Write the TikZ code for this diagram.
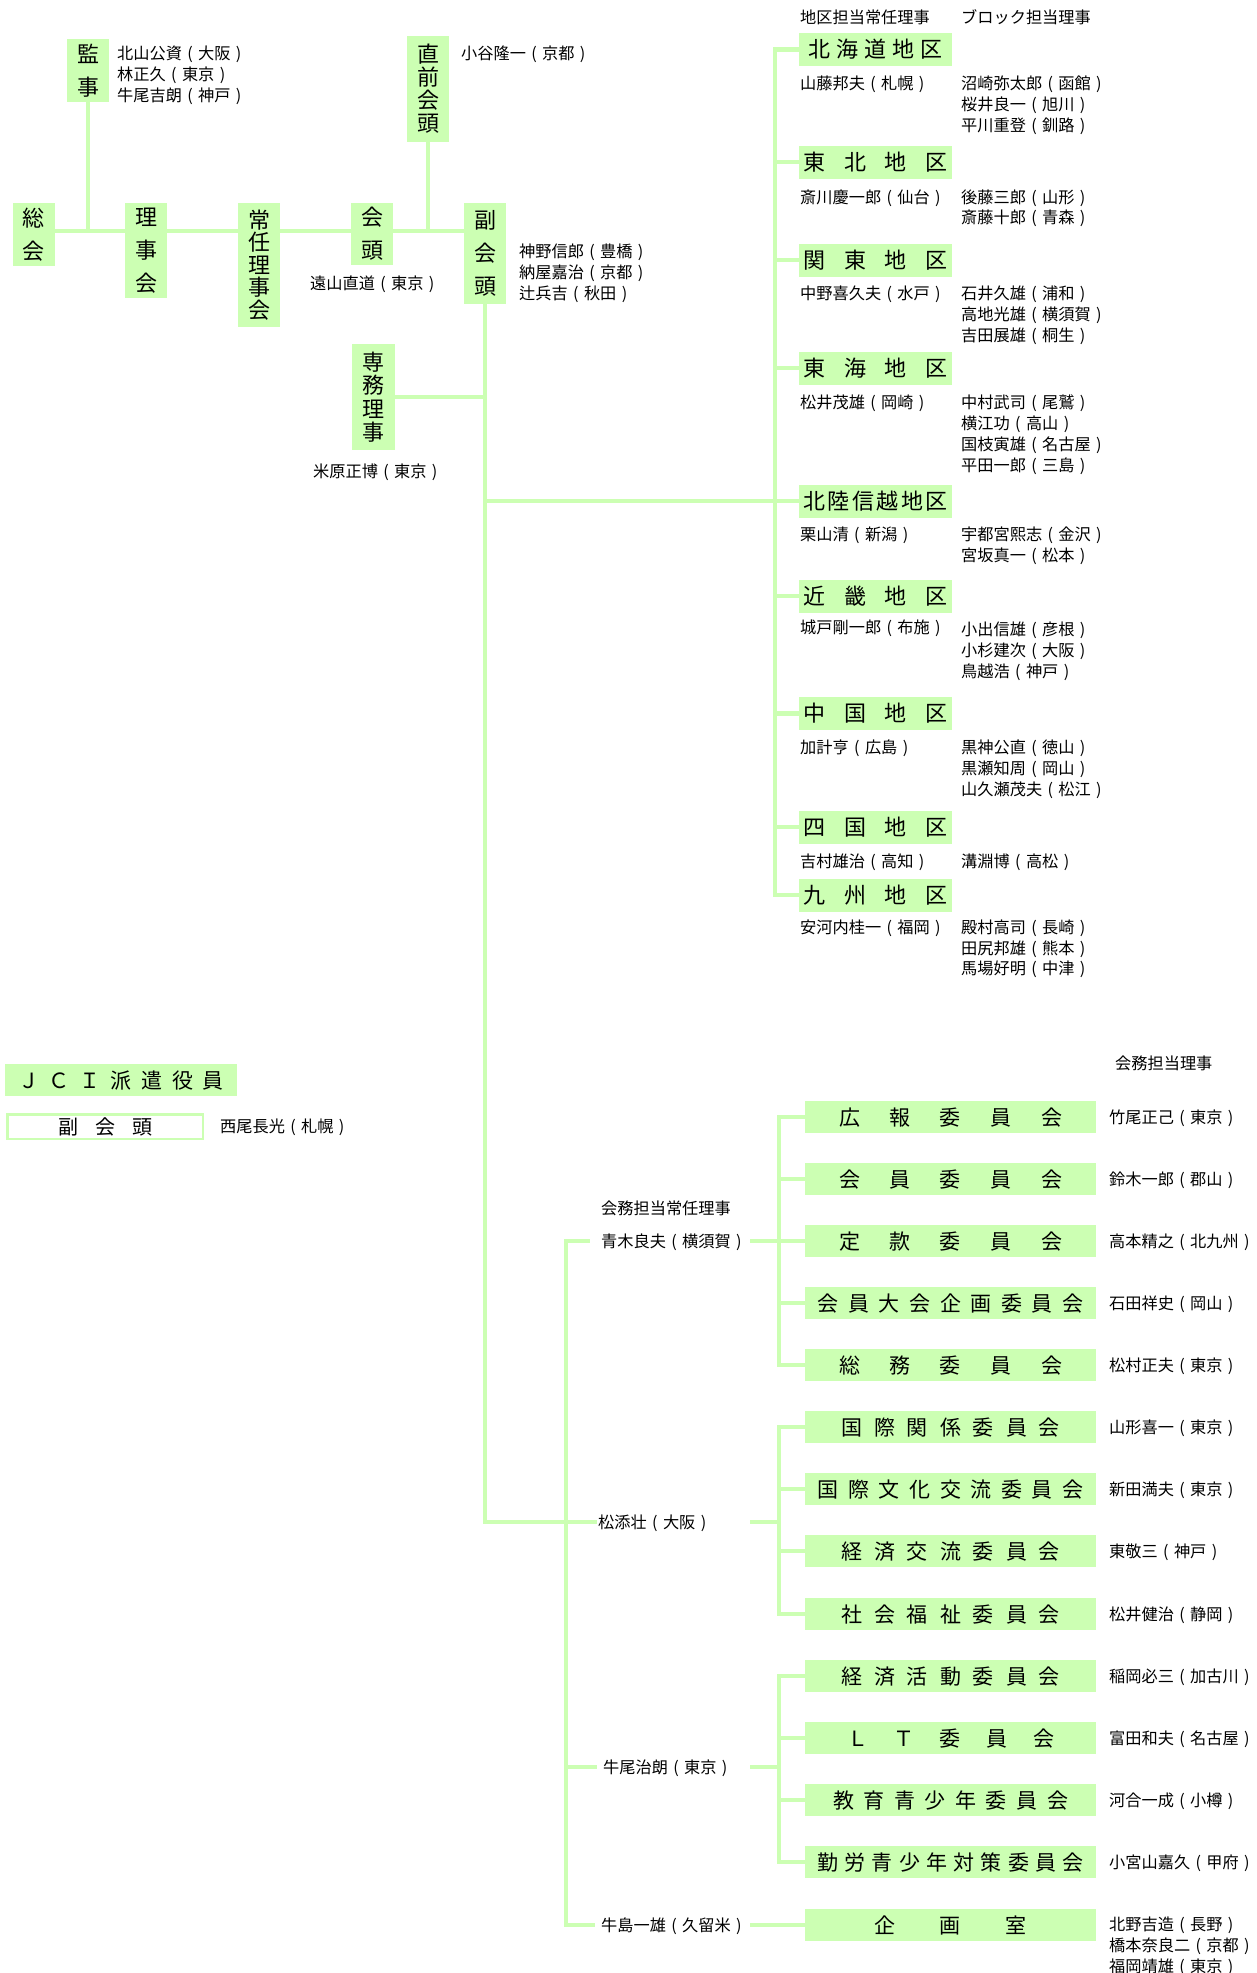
\documentclass[tikz,border=0pt]{standalone}
\usepackage{fontspec}
\setmainfont{Noto Sans CJK JP}
\usetikzlibrary{backgrounds}
\definecolor{jg}{RGB}{204,255,179}
\newcommand\nm[4]{\node[nmtext] (#1) at (#2,#3) {#4};}
\newcommand\pl[1]{\makebox[1em]{(}#1\makebox[1em]{)}}
\begin{document}
\begin{tikzpicture}[x=1pt,y=-1pt,
  conn/.style={draw=jg, line width=4.5pt, line cap=rect},
  vbox/.style={fill=jg, inner sep=0pt, minimum width=42pt, align=center},
  sp/.style={font=\fontsize{22}{33}\selectfont},
  tg/.style={font=\fontsize{22}{23}\selectfont},
  rbox/.style={fill=jg, inner sep=0pt, minimum width=153pt, minimum height=33pt,
    font=\fontsize{22}{22}\selectfont, text height=19pt, text depth=3pt},
  cbox/.style={fill=jg, inner sep=0pt, minimum width=291pt, minimum height=32pt,
    font=\fontsize{21}{21}\selectfont, text height=18.5pt, text depth=2.5pt},
  nmtext/.style={anchor=west, inner sep=0pt, font=\fontsize{16.2}{16.2}\selectfont,
    text height=14pt, text depth=2pt}]
\useasboundingbox (0,0) rectangle (1257,1973);

% ---------- top chain ----------
\node[vbox, sp, minimum height=63pt]  (kanji)    at (88,70.5)   {監\\事};
\node[vbox, sp, minimum height=63pt]  (sokai)    at (34,234.5)  {総\\会};
\node[vbox, sp, minimum height=95pt]  (rijikai)  at (146,250.5) {理\\事\\会};
\node[vbox, font=\fontsize{22}{22.5}\selectfont, minimum height=124pt] (jonin) at (259,265) {常\\任\\理\\事\\会};
\node[vbox, sp, minimum height=62pt]  (kaito)    at (372,234)   {会\\頭};
\node[vbox, tg, minimum height=106pt] (chokuzen) at (428,89)    {直\\前\\会\\頭};
\node[vbox, sp, minimum height=101pt] (fuku)     at (485,253.5) {副\\会\\頭};
\node[vbox, font=\fontsize{22}{23.5}\selectfont, minimum width=43pt, minimum height=106pt] (senmu) at (373.5,397) {専\\務\\理\\事};

\nm{k1}{117}{53}{北山公資\pl{大阪}}
\nm{k2}{117}{74}{林正久\pl{東京}}
\nm{k3}{117}{95}{牛尾吉朗\pl{神戸}}
\nm{c1}{461}{53}{小谷隆一\pl{京都}}
\nm{t1}{310}{283}{遠山直道\pl{東京}}
\nm{f1}{519}{251}{神野信郎\pl{豊橋}}
\nm{f2}{519}{272}{納屋嘉治\pl{京都}}
\nm{f3}{519}{293}{辻兵吉\pl{秋田}}
\nm{s1}{313}{471}{米原正博\pl{東京}}

% ---------- regions ----------
\nm{h1}{800}{17}{地区担当常任理事}
\nm{h2}{961}{17}{ブロック担当理事}

\node[rbox] (hokkaido) at (875.5,49.5) {\makebox[134pt]{北\hfill 海\hfill 道\hfill 地\hfill 区}};
\node[rbox] (tohoku)   at (875.5,162)  {\makebox[144pt]{東\hfill 北\hfill 地\hfill 区}};
\node[rbox] (kanto)    at (875.5,260)  {\makebox[144pt]{関\hfill 東\hfill 地\hfill 区}};
\node[rbox] (tokai)    at (875.5,368)  {\makebox[144pt]{東\hfill 海\hfill 地\hfill 区}};
\node[rbox] (hokuriku) at (875.5,501)  {\makebox[144pt]{北\hfill 陸\hfill 信\hfill 越\hfill 地\hfill 区}};
\node[rbox] (kinki)    at (875.5,596)  {\makebox[144pt]{近\hfill 畿\hfill 地\hfill 区}};
\node[rbox] (chugoku)  at (875.5,713.5){\makebox[144pt]{中\hfill 国\hfill 地\hfill 区}};
\node[rbox] (shikoku)  at (875.5,827)  {\makebox[144pt]{四\hfill 国\hfill 地\hfill 区}};
\node[rbox] (kyushu)   at (875.5,895)  {\makebox[144pt]{九\hfill 州\hfill 地\hfill 区}};

\nm{r1}{800}{83}{山藤邦夫\pl{札幌}}
\nm{r2}{961}{83}{沼崎弥太郎\pl{函館}}
\nm{r3}{961}{104}{桜井良一\pl{旭川}}
\nm{r4}{961}{125}{平川重登\pl{釧路}}
\nm{r5}{800}{197}{斎川慶一郎\pl{仙台}}
\nm{r6}{961}{197}{後藤三郎\pl{山形}}
\nm{r7}{961}{217}{斎藤十郎\pl{青森}}
\nm{r8}{800}{293}{中野喜久夫\pl{水戸}}
\nm{r9}{961}{293}{石井久雄\pl{浦和}}
\nm{r10}{961}{314}{高地光雄\pl{横須賀}}
\nm{r11}{961}{335}{吉田展雄\pl{桐生}}
\nm{r12}{800}{402}{松井茂雄\pl{岡崎}}
\nm{r13}{961}{402}{中村武司\pl{尾鷲}}
\nm{r14}{961}{423}{横江功\pl{高山}}
\nm{r15}{961}{444}{国枝寅雄\pl{名古屋}}
\nm{r16}{961}{465}{平田一郎\pl{三島}}
\nm{r17}{800}{534}{栗山清\pl{新潟}}
\nm{r18}{961}{534}{宇都宮熙志\pl{金沢}}
\nm{r19}{961}{555}{宮坂真一\pl{松本}}
\nm{r20}{800}{627}{城戸剛一郎\pl{布施}}
\nm{r21}{961}{629}{小出信雄\pl{彦根}}
\nm{r22}{961}{650}{小杉建次\pl{大阪}}
\nm{r23}{961}{671}{鳥越浩\pl{神戸}}
\nm{r24}{800}{747}{加計亨\pl{広島}}
\nm{r25}{961}{747}{黒神公直\pl{徳山}}
\nm{r26}{961}{768}{黒瀬知周\pl{岡山}}
\nm{r27}{961}{789}{山久瀬茂夫\pl{松江}}
\nm{r28}{800}{861}{吉村雄治\pl{高知}}
\nm{r29}{961}{861}{溝淵博\pl{高松}}
\nm{r30}{800}{927}{安河内桂一\pl{福岡}}
\nm{r31}{961}{927}{殿村高司\pl{長崎}}
\nm{r32}{961}{948}{田尻邦雄\pl{熊本}}
\nm{r33}{961}{968}{馬場好明\pl{中津}}

% ---------- JCI ----------
\node[fill=jg, inner sep=0pt, minimum width=232pt, minimum height=32pt,
  font=\fontsize{21}{21}\selectfont, text height=18.5pt, text depth=2.5pt] (jci) at (121,1080)
  {\makebox[206pt]{Ｊ\hfill Ｃ\hfill Ｉ\hfill 派\hfill 遣\hfill 役\hfill 員}};
\node[draw=jg, line width=2.5pt, inner sep=0pt, minimum width=195.5pt, minimum height=24.5pt,
  font=\fontsize{20}{20}\selectfont, text height=17.5pt, text depth=2.5pt] (jcifuku) at (105,1126.5)
  {\makebox[94pt]{副\hfill 会\hfill 頭}};
\nm{j1}{220}{1126}{西尾長光\pl{札幌}}

% ---------- committees ----------
\nm{h3}{1115}{1063}{会務担当理事}
\nm{h4}{601}{1208}{会務担当常任理事}

\node[cbox] (koho)     at (950.5,1117) {\makebox[223pt]{広\hfill 報\hfill 委\hfill 員\hfill 会}};
\node[cbox] (kaiin)    at (950.5,1179) {\makebox[223pt]{会\hfill 員\hfill 委\hfill 員\hfill 会}};
\node[cbox] (teikan)   at (950.5,1241) {\makebox[223pt]{定\hfill 款\hfill 委\hfill 員\hfill 会}};
\node[cbox] (taikai)   at (950.5,1303) {\makebox[266pt]{会\hfill 員\hfill 大\hfill 会\hfill 企\hfill 画\hfill 委\hfill 員\hfill 会}};
\node[cbox] (somu)     at (950.5,1365) {\makebox[223pt]{総\hfill 務\hfill 委\hfill 員\hfill 会}};
\node[cbox] (kankei)   at (950.5,1427) {\makebox[219pt]{国\hfill 際\hfill 関\hfill 係\hfill 委\hfill 員\hfill 会}};
\node[cbox] (bunka)    at (950.5,1489) {\makebox[266pt]{国\hfill 際\hfill 文\hfill 化\hfill 交\hfill 流\hfill 委\hfill 員\hfill 会}};
\node[cbox] (koryu)    at (950.5,1551) {\makebox[219pt]{経\hfill 済\hfill 交\hfill 流\hfill 委\hfill 員\hfill 会}};
\node[cbox] (fukushi)  at (950.5,1614) {\makebox[219pt]{社\hfill 会\hfill 福\hfill 祉\hfill 委\hfill 員\hfill 会}};
\node[cbox] (katsudo)  at (950.5,1676) {\makebox[219pt]{経\hfill 済\hfill 活\hfill 動\hfill 委\hfill 員\hfill 会}};
\node[cbox] (lt)       at (950.5,1738) {\makebox[207pt]{Ｌ\hfill Ｔ\hfill 委\hfill 員\hfill 会}};
\node[cbox] (kyoiku)   at (950.5,1800) {\makebox[235pt]{教\hfill 育\hfill 青\hfill 少\hfill 年\hfill 委\hfill 員\hfill 会}};
\node[cbox] (kinro)    at (950.5,1862) {\makebox[266pt]{勤\hfill 労\hfill 青\hfill 少\hfill 年\hfill 対\hfill 策\hfill 委\hfill 員\hfill 会}};
\node[cbox] (kikaku)   at (950.5,1925) {\makebox[153pt]{企\hfill 画\hfill 室}};

\nm{m1}{1109}{1117}{竹尾正己\pl{東京}}
\nm{m2}{1109}{1179}{鈴木一郎\pl{郡山}}
\nm{m3}{1109}{1241}{高本精之\pl{北九州}}
\nm{m4}{1109}{1303}{石田祥史\pl{岡山}}
\nm{m5}{1109}{1365}{松村正夫\pl{東京}}
\nm{m6}{1109}{1427}{山形喜一\pl{東京}}
\nm{m7}{1109}{1489}{新田満夫\pl{東京}}
\nm{m8}{1109}{1551}{東敬三\pl{神戸}}
\nm{m9}{1109}{1614}{松井健治\pl{静岡}}
\nm{m10}{1109}{1676}{稲岡必三\pl{加古川}}
\nm{m11}{1109}{1738}{富田和夫\pl{名古屋}}
\nm{m12}{1109}{1800}{河合一成\pl{小樽}}
\nm{m13}{1109}{1862}{小宮山嘉久\pl{甲府}}
\nm{m14}{1109}{1924}{北野吉造\pl{長野}}
\nm{m15}{1109}{1945}{橋本奈良二\pl{京都}}
\nm{m16}{1109}{1966}{福岡靖雄\pl{東京}}

\nm{aoki}{601}{1241}{青木良夫\pl{横須賀}}
\nm{matsuzoe}{598}{1522}{松添壮\pl{大阪}}
\nm{ushio}{603}{1767}{牛尾治朗\pl{東京}}
\nm{ushijima}{601}{1925}{牛島一雄\pl{久留米}}

% ---------- connectors ----------
\coordinate (hl) at (0,231);
\coordinate (rv) at (775,0);
\coordinate (lv) at (566,0);
\coordinate (gs) at (752,0);
\coordinate (gv) at (779,0);
\begin{scope}[on background layer]
\draw[conn] (sokai.east |- hl) -- (rijikai.west |- hl);
\draw[conn] (rijikai.east |- hl) -- (jonin.west |- hl);
\draw[conn] (jonin.east |- hl) -- (kaito.west |- hl);
\draw[conn] (kaito.east |- hl) -- (fuku.west |- hl);
\draw[conn] (kanji.south) -- (kanji.south |- hl);
\draw[conn] (chokuzen.south) -- (chokuzen.south |- hl);
\draw[conn] (senmu.east) -- (senmu.east -| fuku.south);
\draw[conn] (fuku.south |- hokuriku.west) -- (hokuriku.west);
% region tree
\draw[conn] (hokkaido.west) -- (rv |- hokkaido.west) -- (rv |- kyushu.west) -- (kyushu.west);
\foreach \r in {tohoku,kanto,tokai,kinki,chugoku,shikoku}
  \draw[conn] (rv |- \r.west) -- (\r.west);
% main line down
\draw[conn] (fuku.south) -- (fuku.south |- matsuzoe.west) -- ([xshift=-3pt]matsuzoe.west);
% lower vertical
\draw[conn] ([xshift=-13pt]aoki.west) -- (lv |- aoki.west) -- (lv |- ushijima.west) -- ([xshift=-8pt]ushijima.west);
\draw[conn] (lv |- ushio.west) -- ([xshift=-8pt]ushio.west);
% to committee groups
\draw[conn] (gs |- aoki.west) -- (teikan.west);
\draw[conn] (gs |- matsuzoe.west) -- (gv |- matsuzoe.west);
\draw[conn] (gs |- ushio.west) -- (gv |- ushio.west);
\draw[conn] (gs |- ushijima.west) -- (kikaku.west);
% group 1
\draw[conn] (koho.west) -- (gv |- koho.west) -- (gv |- somu.west) -- (somu.west);
\foreach \c in {kaiin,taikai}
  \draw[conn] (gv |- \c.west) -- (\c.west);
% group 2
\draw[conn] (kankei.west) -- (gv |- kankei.west) -- (gv |- fukushi.west) -- (fukushi.west);
\foreach \c in {bunka,koryu}
  \draw[conn] (gv |- \c.west) -- (\c.west);
% group 3
\draw[conn] (katsudo.west) -- (gv |- katsudo.west) -- (gv |- kinro.west) -- (kinro.west);
\foreach \c in {lt,kyoiku}
  \draw[conn] (gv |- \c.west) -- (\c.west);
\end{scope}
\end{tikzpicture}
\end{document}
